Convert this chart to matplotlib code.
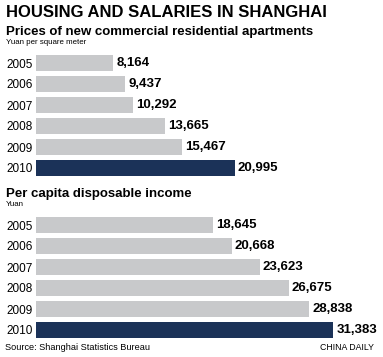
import matplotlib
matplotlib.use("Agg")
import matplotlib.pyplot as plt

years = ["2005", "2006", "2007", "2008", "2009", "2010"]
housing_prices = [8164, 9437, 10292, 13665, 15467, 20995]
income = [18645, 20668, 23623, 26675, 28838, 31383]

GRAY = "#c8c9cb"
NAVY = "#1b3258"
W, H = 383, 357

fig = plt.figure(figsize=(W / 100, H / 100), dpi=100)
fig.patch.set_facecolor("white")

def px_rect(left, top, right, bottom):
    return [left / W, 1 - bottom / H, (right - left) / W, (bottom - top) / H]

def draw_panel(ax, values):
    colors = [GRAY] * (len(values) - 1) + [NAVY]
    ax.barh(range(len(values)), values, height=0.76, color=colors)
    ax.set_xlim(0, 36640)
    ax.set_ylim(len(values) - 0.5, -0.5)
    ax.set_yticks(range(len(values)))
    ax.set_yticklabels(years, family="Liberation Sans", fontsize=8.5)
    ax.tick_params(axis="y", length=0, pad=2.5)
    ax.set_xticks([])
    for s in ax.spines.values():
        s.set_visible(False)
    for i, v in enumerate(values):
        ax.annotate(f"{v:,}", (v, i), xytext=(2.2, 0), textcoords="offset points",
                    va="center", ha="left", family="Liberation Sans",
                    fontweight="bold", fontsize=9.5)

ax1 = fig.add_axes(px_rect(36, 52.5, 383, 178.5))
draw_panel(ax1, housing_prices)
ax2 = fig.add_axes(px_rect(36, 214.5, 383, 340.5))
draw_panel(ax2, income)

fig.text(6 / W, 1 - 5 / H, "HOUSING AND SALARIES IN SHANGHAI", family="Liberation Sans",
         fontweight="bold", fontsize=12, va="top", ha="left")
fig.text(6 / W, 1 - 25.5 / H, "Prices of new commercial residential apartments",
         family="Liberation Sans", fontweight="bold", fontsize=9.5, va="top", ha="left")
fig.text(6 / W, 1 - 39.5 / H, "Yuan per square meter", family="Liberation Sans",
         fontsize=5.7, va="top", ha="left")
fig.text(6 / W, 1 - 188.5 / H, "Per capita disposable income", family="Liberation Sans",
         fontweight="bold", fontsize=9.5, va="top", ha="left")
fig.text(6 / W, 1 - 200.5 / H, "Yuan", family="Liberation Sans",
         fontsize=5.7, va="top", ha="left")
fig.text(5 / W, 1 - 342.5 / H, "Source: Shanghai Statistics Bureau", family="Liberation Sans",
         fontsize=6.6, va="top", ha="left")
fig.text(374 / W, 1 - 342.5 / H, "CHINA DAILY", family="Liberation Sans",
         fontsize=6.3, va="top", ha="right")

fig.savefig("out.png", dpi=100, facecolor="white")
